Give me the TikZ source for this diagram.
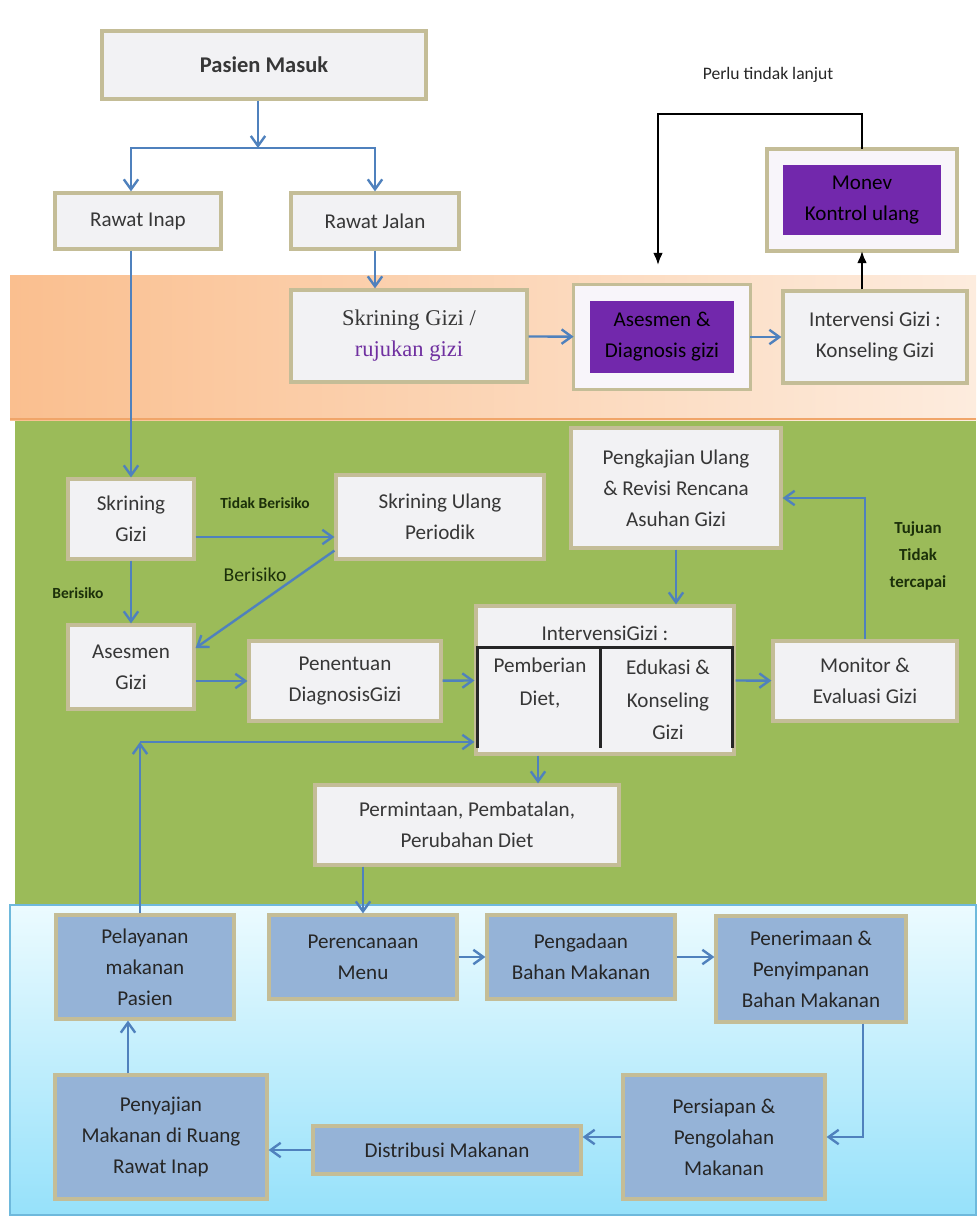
\documentclass[tikz,border=0pt]{standalone}
\usepackage{fontspec}
\setmainfont{Carlito}
\newfontfamily\serifgizi{Liberation Serif}
\usetikzlibrary{arrows.meta,calc,positioning}

\definecolor{bordertan}{RGB}{196,189,151}
\definecolor{boxfill}{RGB}{242,242,244}
\definecolor{boxblue}{RGB}{149,179,215}
\definecolor{arrowblue}{RGB}{79,129,189}
\definecolor{purp}{RGB}{112,48,160}
\definecolor{purpfill}{RGB}{114,40,172}
\definecolor{bandgreen}{RGB}{155,187,89}
\definecolor{bandorange}{RGB}{250,191,143}
\definecolor{bandpeach}{RGB}{253,236,222}
\definecolor{bandedge}{RGB}{240,165,105}
\definecolor{bandcyan}{RGB}{150,225,250}
\definecolor{bandice}{RGB}{236,251,255}
\definecolor{bandline}{RGB}{110,185,220}
\definecolor{txt}{RGB}{55,55,55}
\definecolor{lbl}{RGB}{28,48,10}

\tikzset{
  box/.style={draw=bordertan, line width=0.8mm, fill=boxfill, text=txt, align=center,
    font=\fontsize{15}{22}\selectfont, inner sep=1mm},
  bluebox/.style={box, fill=boxblue, text=black!85},
  purpbox/.style={fill=purpfill, align=center, inner sep=1mm, outer sep=2.2mm,
    text=black, font=\fontsize{15}{22}\selectfont},
  ring/.style={draw=white!95!purp, line width=3.6mm},
  frame/.style={draw=bordertan, line width=0.8mm},
  txtonly/.style={align=center, text=txt, font=\fontsize{15}{23}\selectfont, inner sep=0.5mm},
  smlbl/.style={align=center, text=lbl, font=\bfseries\fontsize{11}{19}\selectfont, inner sep=0.5mm},
}

\begin{document}
\begin{tikzpicture}[x=0.25mm, y=-0.25mm, >={Straight Barb[length=2.5mm,width=3.6mm]},
  flow/.style={draw=arrowblue, line width=0.6mm, ->},
  blk/.style={draw=black, line width=0.5mm, -{Latex[length=3mm,width=2.4mm]}},
  tbl/.style={draw=black!85, line width=0.8mm}]
\useasboundingbox (0,0) rectangle (976,1224);

% bands
\shade[left color=bandorange, right color=bandpeach] (10,275) rectangle (976,420);
\draw[bandedge, line width=0.6mm] (10,419) -- (976,419);
\fill[bandgreen] (15,421) rectangle (976,905);
\shade[top color=bandice, bottom color=bandcyan, draw=bandline, line width=0.4mm] (10,905) rectangle (976,1215);

% top part
\node[box, font=\bfseries\fontsize{16}{20}\selectfont, minimum width=81mm, minimum height=17mm] (pasien) at (264,65) {Pasien Masuk};
\node[box, minimum width=41.5mm, minimum height=14mm] (inap) at (138,221) {Rawat Inap};
\node[box, minimum width=42mm, minimum height=14mm] (jalan) at (375,221) {Rawat Jalan};
\node[text=black!85, font=\fontsize{12.5}{15}\selectfont] (perlu) at (768,75) {Perlu tindak lanjut};
\node[purpbox, minimum width=43.1mm, minimum height=21.1mm] (monev) at (862,200) {Monev\\Kontrol ulang};
\draw[ring] ($(monev.south west)+(8.8,-8.8)$) rectangle ($(monev.north east)+(-8.8,8.8)$);
\draw[frame] (monev.south west) rectangle (monev.north east);

% orange band
\node[box, font=\serifgizi\fontsize{16}{22}\selectfont, minimum width=59mm, minimum height=23mm] (skrRuj) at (409,336) {Skrining Gizi /\\\textcolor{purp}{rujukan gizi}};
\node[purpbox, minimum width=39.8mm, minimum height=21.8mm] (asesD) at (662,337) {Asesmen \&\\Diagnosis gizi};
\draw[ring] ($(asesD.south west)+(8.8,-8.8)$) rectangle ($(asesD.north east)+(-8.8,8.8)$);
\draw[frame] (asesD.south west) rectangle (asesD.north east);
\node[box, minimum width=46mm, minimum height=23mm] (intKons) at (875,337) {Intervensi Gizi :\\Konseling Gizi};

% green band
\node[box, minimum width=31.5mm, minimum height=20mm] (skrG) at (131,519) {Skrining\\Gizi};
\node[box, minimum width=52mm, minimum height=21mm] (skrU) at (440,517) {Skrining Ulang\\Periodik};
\node[box, minimum width=31.5mm, minimum height=21mm] (asmG) at (131,667) {Asesmen\\Gizi};
\node[box, minimum width=48mm, minimum height=20mm] (pDiag) at (345,681) {Penentuan\\DiagnosisGizi};
\node[box, minimum width=52.5mm, minimum height=30mm] (pKaji) at (676,488) {Pengkajian Ulang\\\& Revisi Rencana\\Asuhan Gizi};
\node[box, minimum width=64.5mm, minimum height=37mm] (intv) at (605,680) {};
\node[txtonly] (intvT) at (605,633) {IntervensiGizi :};
\node[txtonly] (diet) at (540,683) {Pemberian\\Diet,};
\node[txtonly] (edu) at (668,700) {Edukasi \&\\Konseling\\Gizi};
\node[box, minimum width=46mm, minimum height=20mm] (monEv) at (865,681) {Monitor \&\\Evaluasi Gizi};
\node[box, minimum width=76mm, minimum height=20mm] (permin) at (467,825) {Permintaan, Pembatalan,\\Perubahan Diet};

\node[smlbl] (tidakB) at (265,503) {Tidak Berisiko};
\node[text=lbl, font=\fontsize{14}{16}\selectfont] (berBig) at (255,575) {Berisiko};
\node[smlbl] (berSm) at (78,593) {Berisiko};
\node[smlbl, font=\bfseries\fontsize{12}{19}\selectfont] (tujuan) at (918,556) {Tujuan\\Tidak\\tercapai};

% blue band
\node[bluebox, minimum width=44.5mm, minimum height=26mm] (pelay) at (145,967) {Pelayanan\\makanan\\Pasien};
\node[bluebox, minimum width=47mm, minimum height=21mm] (perenc) at (363,957) {Perencanaan\\Menu};
\node[bluebox, minimum width=47mm, minimum height=21mm] (pengad) at (581,957) {Pengadaan\\Bahan Makanan};
\node[bluebox, minimum width=47.5mm, minimum height=26.5mm] (peneri) at (811,969) {Penerimaan \&\\Penyimpanan\\Bahan Makanan};
\node[bluebox, minimum width=50.5mm, minimum height=31mm] (persia) at (724,1137) {Persiapan \&\\Pengolahan\\Makanan};
\node[bluebox, minimum width=67mm, minimum height=12mm] (distri) at (447,1150) {Distribusi Makanan};
\node[bluebox, minimum width=53mm, minimum height=31mm] (penyaj) at (161,1137) {Penyajian\\Makanan di Ruang\\Rawat Inap};

% table lines inside intervensi
\draw[tbl] ($(intv.south west)+(3,-8)$) |- ($(intv.north east)+(-3,43)$) -- ($(intv.south east)+(-3,-8)$);
\draw[tbl] ($(intv.south west)+(126,-8)$) -- ($(intv.north west)+(126,43)$);

% connectors
\coordinate (split) at (258,148);
\coordinate (backEnd) at (658,265);
\coordinate (bend) at (140,742);
\coordinate (skrOut) at ($(skrG.east)+(0,18)$);
\coordinate (intvOut) at ($(intv.south)+(-67,0)$);
\coordinate (peneriOut) at ($(peneri.south)+(52,0)$);
\coordinate (penyajOut) at ($(penyaj.north)+(-33,0)$);

\draw[flow] (pasien.south -| split) -- (split);
\draw[flow] (split) -| (inap.north -| skrG);
\draw[flow] (split) -| (jalan);
\draw[flow] (jalan.south) -- (jalan.south |- skrRuj.north);
\draw[flow] (skrRuj) -- (asesD);
\draw[flow] (asesD) -- (intKons);
\draw[blk] (intKons.north -| monev) -- (monev.south);
\draw[blk] (monev.north) -- ++(0,-35) -| (backEnd);

\draw[flow] (inap.south -| skrG) -- (skrG);
\draw[flow] (skrOut) -- (skrOut -| skrU.west);
\draw[flow] ($(skrU.south west)+(0,-10)$) -- ($(asmG.east)+(0,-19)$);
\draw[flow] (skrG) -- (asmG);
\draw[flow] (asmG.east |- pDiag) -- (pDiag);
\draw[flow] (pDiag) -- (intv);
\draw[flow] (intv) -- (monEv);
\draw[flow] (monEv) |- ($(pKaji.east)+(0,10)$);
\draw[flow] (pKaji.south) -- (pKaji.south |- intv.north);
\draw[flow] (intvOut) -- (intvOut |- permin.north);
\draw[flow] (permin.south -| perenc) -- (perenc);
\draw[flow] (pelay.north -| bend) -- (bend);
\draw[flow] (bend) -- (bend -| intv.west);

\draw[flow] (perenc) -- (pengad);
\draw[flow] (pengad) -- (pengad -| peneri.west);
\draw[flow] (peneriOut) |- (persia.east);
\draw[flow] (persia.west) -- (persia.west -| distri.east);
\draw[flow] (distri.west) -- (distri.west -| penyaj.east);
\draw[flow] (penyajOut) -- (penyajOut |- pelay.south);
\end{tikzpicture}
\end{document}
